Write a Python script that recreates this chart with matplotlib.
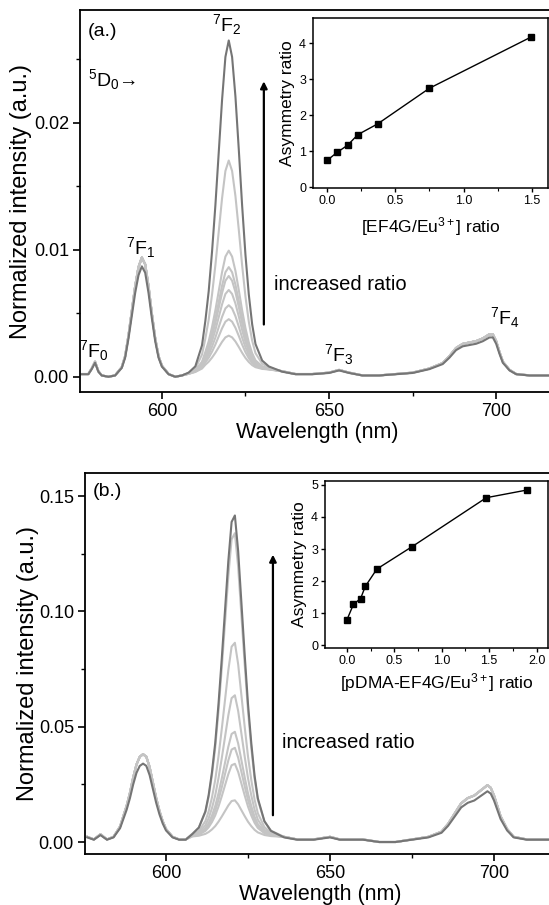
import numpy as np
import matplotlib.pyplot as plt

plt.rcParams['font.family'] = ['Liberation Sans', 'DejaVu Sans']
plt.rcParams['mathtext.fontset'] = 'custom'
plt.rcParams['mathtext.rm'] = 'Liberation Sans'
plt.rcParams['mathtext.it'] = 'Liberation Sans:italic'
plt.rcParams['mathtext.default'] = 'regular'

# common wavelength grid (nm)
wl = [576, 578, 579, 580, 581, 582, 584, 586, 588, 589, 590, 591, 592, 593, 594,
      595, 596, 597, 598, 599, 600, 602, 604, 606, 608, 610, 612, 613, 614, 615,
      616, 617, 618, 619, 620, 621, 622, 623, 624, 625, 626, 627, 628, 630, 632,
      636, 640, 645, 650, 653, 656, 660, 665, 670, 675, 680, 684, 686, 688, 690,
      692, 694, 696, 698, 699, 700, 701, 702, 704, 706, 710, 716, 718]

# panel (a): spectrum without the 7F2 band
base_a = [0.0002, 0.0002, 0.0006, 0.0011, 0.0004, 0.0001, 0.0000, 0.0001, 0.0007, 0.0015,
          0.0030, 0.0048, 0.0066, 0.0080, 0.0087, 0.0082, 0.0066, 0.0046, 0.0028, 0.0015,
          0.0008, 0.0002, 0.0000, 0.0001, 0.0002, 0.0003, 0.0004, 0.0005, 0.0005, 0.0005,
          0.0005, 0.0005, 0.0005, 0.0005, 0.0005, 0.0005, 0.0005, 0.0005, 0.0005, 0.0005,
          0.0005, 0.0005, 0.0005, 0.0005, 0.0005, 0.0004, 0.0002, 0.0002, 0.0003, 0.0005,
          0.0003, 0.0001, 0.0001, 0.0002, 0.0003, 0.0006, 0.0010, 0.0015, 0.0021, 0.0024,
          0.0025, 0.0026, 0.0028, 0.0031, 0.0031, 0.0026, 0.0018, 0.0011, 0.0005, 0.0002,
          0.0001, 0.0001, 0.0001]
# 7F2 band shape (normalised)
band_a = [0, 0, 0, 0, 0, 0, 0, 0, 0, 0, 0, 0, 0, 0, 0, 0, 0, 0, 0, 0, 0, 0, 0, 0,
          0.005, 0.02, 0.08, 0.15, 0.24, 0.36, 0.50, 0.66, 0.82, 0.95, 1.0, 0.95, 0.83,
          0.67, 0.50, 0.35, 0.23, 0.14, 0.08, 0.03, 0.012, 0, 0, 0, 0, 0, 0, 0, 0, 0,
          0, 0, 0, 0, 0, 0, 0, 0, 0, 0, 0, 0, 0, 0, 0, 0, 0, 0, 0]
peak_dark_a = 0.0260
peaks_light_a = [0.0165, 0.0094, 0.0081, 0.0074, 0.0063, 0.0051, 0.0040, 0.0027]
rest_light_a = 1.08

# panel (b)
base_b = [0.002, 0.001, 0.002, 0.003, 0.002, 0.001, 0.002, 0.006, 0.014, 0.019,
          0.025, 0.030, 0.033, 0.034, 0.033, 0.029, 0.023, 0.017, 0.012, 0.008,
          0.005, 0.002, 0.001, 0.001, 0.002, 0.002, 0.002, 0.002, 0.002, 0.002,
          0.002, 0.002, 0.002, 0.002, 0.002, 0.002, 0.002, 0.002, 0.002, 0.002,
          0.002, 0.002, 0.002, 0.002, 0.002, 0.002, 0.001, 0.001, 0.002, 0.001,
          0.001, 0.001, 0.000, 0.000, 0.001, 0.002, 0.004, 0.007, 0.011, 0.015,
          0.017, 0.018, 0.020, 0.022, 0.021, 0.018, 0.014, 0.010, 0.005, 0.002,
          0.001, 0.001, 0.001]
band_b = [0, 0, 0, 0, 0, 0, 0, 0, 0, 0, 0, 0, 0, 0, 0, 0, 0, 0, 0, 0, 0, 0, 0, 0,
          0.01, 0.03, 0.08, 0.13, 0.20, 0.29, 0.41, 0.55, 0.70, 0.85, 0.97, 0.99, 0.88,
          0.72, 0.56, 0.41, 0.29, 0.19, 0.12, 0.05, 0.02, 0, 0, 0, 0, 0, 0, 0, 0, 0,
          0, 0, 0, 0, 0, 0, 0, 0, 0, 0, 0, 0, 0, 0, 0, 0, 0, 0, 0]
peak_dark_b = 0.141
peaks_light_b = [0.133, 0.085, 0.062, 0.046, 0.039, 0.032, 0.016]
rest_light_b = 1.12

# insets
ratio_a = [0.0, 0.073, 0.15, 0.224, 0.37, 0.75, 1.495]
asym_a = [0.75, 0.97, 1.17, 1.46, 1.76, 2.75, 4.17]
ratio_b = [0.0, 0.07, 0.145, 0.195, 0.317, 0.69, 1.47, 1.90]
asym_b = [0.79, 1.28, 1.46, 1.84, 2.38, 3.08, 4.60, 4.84]

dark = '#757575'
light = '#c4c4c4'

fig = plt.figure(figsize=(5.49, 9.05), dpi=100)


def spectra(ax, base, band, hdark, hlight, rest):
    x = np.array(wl)
    base = np.array(base)
    band = np.array(band)
    for h in hlight:
        ax.plot(x, base * rest + h * band, color=light, lw=1.5)
    ax.plot(x, base + hdark * band, color=dark, lw=1.5)


def style(ax):
    ax.tick_params(direction='out', length=5, width=1.2, labelsize=13, pad=3,
                   top=False, right=False)
    ax.tick_params(which='minor', direction='out', length=3, width=1.0, top=False, right=False)
    for s in ax.spines.values():
        s.set_linewidth(1.3)


# ---------------- panel (a) ----------------
ax1 = fig.add_axes([80 / 549, 1 - 392 / 905, 475 / 549, 382 / 905])
spectra(ax1, base_a, band_a, peak_dark_a, peaks_light_a, rest_light_a)
ax1.set_xlim(575.5, 717.6)
ax1.set_ylim(-0.0012, 0.0289)
ax1.set_xticks([600, 650, 700])
ax1.set_xticks([625, 675], minor=True)
ax1.set_yticks([0.0, 0.01, 0.02])
ax1.set_yticks([0.005, 0.015, 0.025], minor=True)
ax1.set_yticklabels(['0.00', '0.01', '0.02'])
style(ax1)
ax1.set_xlabel('Wavelength (nm)', fontsize=15.5, labelpad=1)
ax1.set_ylabel('Normalized intensity (a.u.)', fontsize=17, labelpad=1)
ax1.text(0.016, 0.965, '(a.)', transform=ax1.transAxes, fontsize=14, va='top')
ax1.text(0.016, 0.85, r'$^5$D$_0$→', transform=ax1.transAxes, fontsize=14, va='top')
ax1.text(619.5, 0.0268, r'$^7$F$_2$', fontsize=14, ha='center', va='bottom')
ax1.text(593.5, 0.0092, r'$^7$F$_1$', fontsize=14, ha='center', va='bottom')
ax1.text(579.5, 0.0011, r'$^7$F$_0$', fontsize=14, ha='center', va='bottom')
ax1.text(653, 0.0008, r'$^7$F$_3$', fontsize=14, ha='center', va='bottom')
ax1.text(702.5, 0.0037, r'$^7$F$_4$', fontsize=14, ha='center', va='bottom')
ax1.annotate('', xy=(630.5, 0.0235), xytext=(630.5, 0.0039),
             arrowprops=dict(arrowstyle='-|>', color='black', lw=1.6, mutation_scale=10))
ax1.text(633.5, 0.0073, 'increased ratio', fontsize=14.5, va='center')

ins1 = fig.add_axes([313 / 549, 1 - 188.3 / 905, 235 / 549, 170.3 / 905])
ins1.plot(ratio_a, asym_a, color='black', lw=1.0, marker='s', markersize=5)
ins1.set_xlim(-0.105, 1.62)
ins1.set_ylim(-0.03, 4.7)
ins1.set_xticks([0.0, 0.5, 1.0, 1.5])
ins1.set_xticks([0.25, 0.75, 1.25], minor=True)
ins1.set_yticks([0, 1, 2, 3, 4])
ins1.tick_params(direction='out', length=3, width=1.0, labelsize=9, pad=2)
ins1.tick_params(which='minor', direction='out', length=2, width=0.8)
for s in ins1.spines.values():
    s.set_linewidth(1.1)
ins1.set_xlabel(r'[EF4G/Eu$^{3+}$] ratio', fontsize=12.5, labelpad=6)
ins1.set_ylabel('Asymmetry ratio', fontsize=12.5, labelpad=3)

# ---------------- panel (b) ----------------
ax2 = fig.add_axes([85 / 549, 1 - 854 / 905, 470 / 549, 381 / 905])
spectra(ax2, base_b, band_b, peak_dark_b, peaks_light_b, rest_light_b)
ax2.set_xlim(575.3, 718.6)
ax2.set_ylim(-0.0052, 0.16)
ax2.set_xticks([600, 650, 700])
ax2.set_xticks([625, 675], minor=True)
ax2.set_yticks([0.0, 0.05, 0.10, 0.15])
ax2.set_yticks([0.025, 0.075, 0.125], minor=True)
ax2.set_yticklabels(['0.00', '0.05', '0.10', '0.15'])
style(ax2)
ax2.set_xlabel('Wavelength (nm)', fontsize=15.5, labelpad=1)
ax2.set_ylabel('Normalized intensity (a.u.)', fontsize=17, labelpad=0)
ax2.text(0.016, 0.975, '(b.)', transform=ax2.transAxes, fontsize=14, va='top')
ax2.annotate('', xy=(632.6, 0.1258), xytext=(632.6, 0.0104),
             arrowprops=dict(arrowstyle='-|>', color='black', lw=1.6, mutation_scale=10))
ax2.text(635.3, 0.0433, 'increased ratio', fontsize=14.5, va='center')

ins2 = fig.add_axes([325 / 549, 1 - 648 / 905, 223 / 549, 167 / 905])
ins2.plot(ratio_b, asym_b, color='black', lw=1.0, marker='s', markersize=5)
ins2.set_xlim(-0.23, 2.12)
ins2.set_ylim(-0.08, 5.12)
ins2.set_xticks([0.0, 0.5, 1.0, 1.5, 2.0])
ins2.set_xticks([0.25, 0.75, 1.25, 1.75], minor=True)
ins2.set_yticks([0, 1, 2, 3, 4, 5])
ins2.tick_params(direction='out', length=3, width=1.0, labelsize=9, pad=2)
ins2.tick_params(which='minor', direction='out', length=2, width=0.8)
for s in ins2.spines.values():
    s.set_linewidth(1.1)
ins2.set_xlabel(r'[pDMA-EF4G/Eu$^{3+}$] ratio', fontsize=12.5, labelpad=3)
ins2.set_ylabel('Asymmetry ratio', fontsize=12.5, labelpad=3)

fig.savefig('out.png', dpi=100)
